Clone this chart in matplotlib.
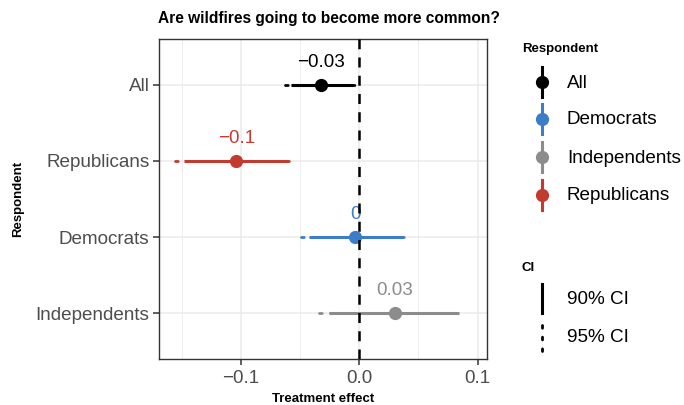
import matplotlib
matplotlib.use("Agg")
import matplotlib.pyplot as plt
from matplotlib.lines import Line2D
from matplotlib.ticker import MultipleLocator

plt.rcParams['font.family'] = ['Liberation Sans', 'DejaVu Sans']

# ---- data ----
groups = ["All", "Republicans", "Democrats", "Independents"]
estimates = [-0.032, -0.104, -0.0034, 0.0304]
lo90 = [-0.058, -0.148, -0.042, -0.0253]
hi90 = [-0.005, -0.0605, 0.0369, 0.0847]
lo95 = [-0.0624, -0.156, -0.049, -0.034]
hi95 = [0.0, -0.053, 0.043, 0.088]
labels = ["\u22120.03", "\u22120.1", "0", "0.03"]
colors = {"All": "#000000", "Republicans": "#C23B2E",
          "Democrats": "#3B7DC6", "Independents": "#8C8C8C"}
legend_order = ["All", "Democrats", "Independents", "Republicans"]
xticks = [-0.1, 0.0, 0.1]
xticklabels = ["\u22120.1", "0.0", "0.1"]

BIG = 13.6
SMALL = 9.5

fig = plt.figure(figsize=(6.84, 4.05), dpi=100)
ax = fig.add_axes([158.5/684, 1-359/405, (487-158.5)/684, (359-39)/405])

ypos = list(range(len(groups)))
for i, g in enumerate(groups):
    c = colors[g]
    ax.plot([lo95[i], hi95[i]], [i, i], color=c, lw=2.0,
            linestyle=(0, (1, 3)), dash_capstyle='round', zorder=3)
    ax.plot([lo90[i], hi90[i]], [i, i], color=c, lw=2.2, solid_capstyle='butt', zorder=4)
    ax.plot([estimates[i]], [i], 'o', color=c, ms=8.5, zorder=5)
    ax.annotate(labels[i], (estimates[i], i), xytext=(0, 10), textcoords='offset points',
                ha='center', va='bottom', color=c, fontsize=BIG)

ax.axvline(0, color='black', lw=1.8, linestyle=(0, (4, 3.3)), zorder=6)

ax.set_xlim(-0.1696, 0.108)
ax.set_ylim(len(groups) - 0.4, -0.6)
ax.set_yticks(ypos)
ax.set_yticklabels(groups, fontsize=BIG, color='#4D4D4D')
ax.set_xticks(xticks)
ax.set_xticklabels(xticklabels, fontsize=BIG, color='#4D4D4D')
ax.xaxis.set_minor_locator(MultipleLocator(0.05))
ax.grid(True, which='major', color='#EBEBEB', lw=1.1, zorder=0)
ax.grid(True, which='minor', axis='x', color='#EBEBEB', lw=0.6, zorder=0)
ax.set_axisbelow(True)
ax.tick_params(which='major', length=4, width=1.1, color='#333333', pad=2.5)
ax.tick_params(axis='x', which='major', pad=4)
ax.tick_params(which='minor', length=0)
for s in ax.spines.values():
    s.set_color('#333333')
    s.set_linewidth(1.0)

ax.set_xlabel("Treatment effect", fontsize=SMALL, fontweight='bold')
ax.xaxis.set_label_coords(0.5, (359 - 399) / 320.0)
ax.xaxis.label.set_va('center')
ax.set_ylabel("Respondent", fontsize=SMALL, fontweight='bold')
ax.yaxis.set_label_coords((18 - 158.5) / 328.5, 0.5)
ax.yaxis.label.set_va('center')

fig.text(158 / 684, 1 - 19 / 405, "Are wildfires going to become more common?",
         fontsize=11.2, fontweight='bold', ha='left', va='center')

# ---- legends (drawn in figure pixel coords) ----
def fx(px):
    return px / 684
def fy(py):
    return 1 - py / 405

fig.text(fx(522), fy(49), "Respondent", fontsize=SMALL, fontweight='bold', va='center', ha='left')
leg_y = [82, 119, 157, 195]
for g, yy in zip(legend_order, leg_y):
    c = colors[g]
    fig.add_artist(Line2D([fx(542), fx(542)], [fy(yy - 15), fy(yy + 15)], color=c, lw=2.2))
    fig.add_artist(Line2D([fx(542)], [fy(yy)], marker='o', color=c, ms=8.5))
    fig.text(fx(567), fy(yy + 1), g, fontsize=BIG, va='center', ha='left')

fig.text(fx(522), fy(268), "CI", fontsize=SMALL, fontweight='bold', va='center', ha='left')
fig.add_artist(Line2D([fx(542), fx(542)], [fy(284), fy(313)], color='black', lw=2.2))
fig.text(fx(567), fy(299), "90% CI", fontsize=BIG, va='center', ha='left')
fig.add_artist(Line2D([fx(542), fx(542)], [fy(325), fy(351)], color='black', lw=2.0,
                      linestyle=(0, (1, 3.2)), dash_capstyle='round'))
fig.text(fx(567), fy(337), "95% CI", fontsize=BIG, va='center', ha='left')

fig.savefig("out.png", dpi=100)
